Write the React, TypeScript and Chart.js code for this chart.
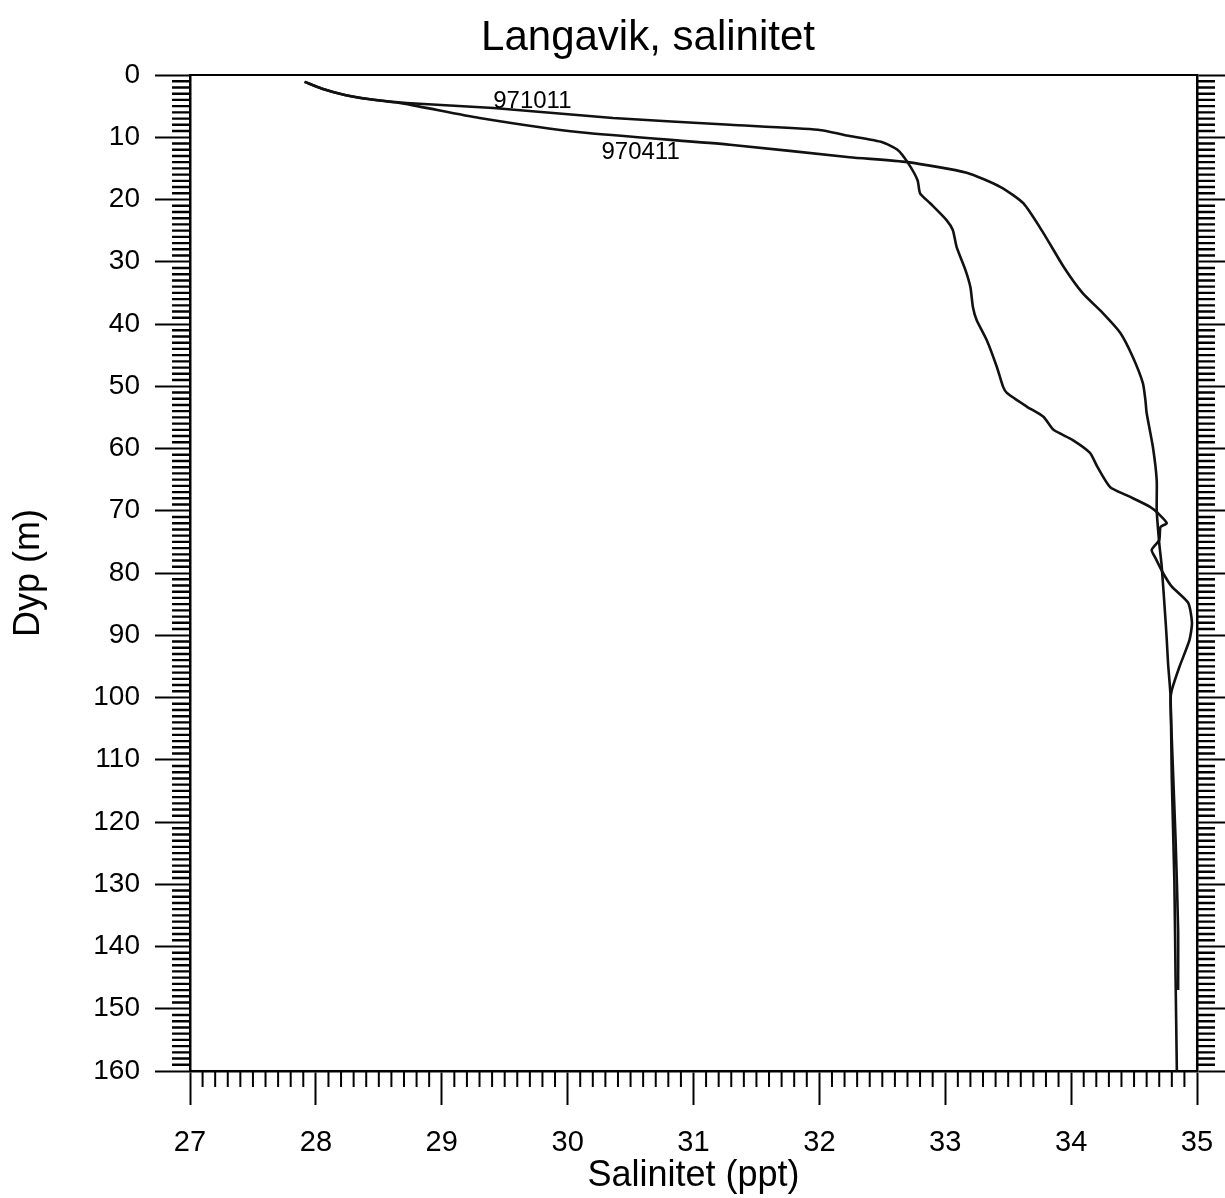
import React, { useEffect, useRef } from "react";
import { Chart, registerables } from "chart.js";

Chart.register(...registerables);

const TITLE = "Langavik, salinitet";
const X_TITLE = "Salinitet (ppt)";
const Y_TITLE = "Dyp (m)";
const FONT = '"Liberation Sans", Arial, Helvetica, sans-serif';

const X_MIN = 27;
const X_MAX = 35;
const Y_MIN = 0;
const Y_MAX = 160;

const SERIES_NAMES = ["971011", "970411"];

const sal971011 = [
  27.91, 28.05, 28.23, 28.43, 28.72, 29.41, 30.36, 31.29, 31.99, 32.24, 32.5, 32.62, 32.7, 32.78,
  32.8, 32.88, 33.01, 33.06, 33.09, 33.16, 33.2, 33.22, 33.25, 33.33, 33.41, 33.46, 33.49, 33.65,
  33.78, 33.86, 34.01, 34.15, 34.21, 34.31, 34.44, 34.63, 34.69, 34.76, 34.71, 34.7, 34.64, 34.67,
  34.73, 34.8, 34.93, 34.96, 34.94, 34.86, 34.8, 34.79, 34.8, 34.83, 34.85, 34.85,
];
const dep971011 = [
  1.1, 2.2, 3.2, 3.9, 4.5, 5.3, 6.9, 8.0, 8.8, 9.8, 10.8, 12.0, 14.0, 16.9, 19.0, 20.6, 23.3, 24.9,
  27.6, 31.3, 34.1, 37.3, 39.4, 42.6, 46.9, 50.1, 51.1, 53.3, 54.9, 57.0, 58.6, 60.7, 63.0, 66.2,
  67.5, 69.4, 70.4, 72.0, 72.6, 74.7, 76.3, 77.6, 80.0, 82.2, 84.8, 88.0, 90.8, 95.1, 98.8, 100.4,
  106.8, 122.9, 137.3, 147.0,
];

const sal970411 = [
  27.91, 28.05, 28.23, 28.43, 28.7, 29.3, 30.1, 31.29, 32.24, 32.7, 33.17, 33.44, 33.62, 33.78,
  33.94, 34.09, 34.25, 34.39, 34.49, 34.57, 34.59, 34.6, 34.65, 34.68, 34.68, 34.7, 34.72, 34.75,
  34.76, 34.77, 34.79, 34.8, 34.82, 34.83, 34.84,
];
const dep970411 = [
  1.1, 2.2, 3.2, 3.9, 4.6, 6.9, 9.2, 11.2, 13.2, 14.0, 15.7, 18.0, 20.6, 25.4, 30.8, 35.0, 38.2,
  41.4, 45.3, 49.5, 52.2, 54.3, 59.8, 65.1, 69.9, 75.2, 79.0, 87.6, 90.8, 94.5, 99.9, 113.3, 129.3,
  145.4, 160.0,
];

// label anchors (salinity, depth) for the series names
const LABEL_SAL = [29.72, 30.58];
const LABEL_DEP = [4.2, 12.4];

const toPoints = (xs: number[], ys: number[]) => xs.map((x, i) => ({ x, y: ys[i] }));

const decorPlugin = {
  id: "decor",
  afterDraw(chart: any) {
    const { ctx, chartArea: ca, scales } = chart;
    const xs = scales.x;
    const ys = scales.y;
    ctx.save();
    ctx.strokeStyle = "#000";
    ctx.lineWidth = 2;
    ctx.beginPath();
    for (let i = 1; i < (X_MAX - X_MIN) * 10; i++) {
      if (i % 10 === 0) continue;
      const px = xs.getPixelForValue(X_MIN + i / 10);
      ctx.moveTo(px, ca.bottom);
      ctx.lineTo(px, ca.bottom + 16);
    }
    ctx.stroke();
    ctx.lineWidth = 2.4;
    ctx.beginPath();
    for (let d = Y_MIN + 1; d < Y_MAX; d++) {
      if (d % 10 === 0) continue;
      const py = ys.getPixelForValue(d);
      ctx.moveTo(ca.left - 18, py);
      ctx.lineTo(ca.left, py);
      ctx.moveTo(ca.right, py);
      ctx.lineTo(ca.right + 18, py);
    }
    ctx.stroke();

    ctx.fillStyle = "#000";
    ctx.font = `42px ${FONT}`;
    ctx.textAlign = "center";
    ctx.textBaseline = "alphabetic";
    ctx.fillText(TITLE, 648, 50);

    ctx.font = `24px ${FONT}`;
    ctx.textBaseline = "middle";
    for (let i = 0; i < SERIES_NAMES.length; i++) {
      ctx.fillText(SERIES_NAMES[i], xs.getPixelForValue(LABEL_SAL[i]), ys.getPixelForValue(LABEL_DEP[i]));
    }
    ctx.restore();
  },
};

export default function App() {
  const ref = useRef<HTMLCanvasElement | null>(null);

  useEffect(() => {
    if (!ref.current) return;
    const lineStyle = {
      borderColor: "#111",
      borderWidth: 2.6,
      pointRadius: 0,
      showLine: true,
      fill: false,
      tension: 0.2,
    };
    const chart = new Chart(ref.current, {
      type: "scatter",
      data: {
        datasets: [
          { label: SERIES_NAMES[0], data: toPoints(sal971011, dep971011), ...lineStyle },
          { label: SERIES_NAMES[1], data: toPoints(sal970411, dep970411), ...lineStyle },
        ],
      },
      options: {
        responsive: false,
        animation: false,
        layout: { padding: { top: 75, left: 0, right: 0, bottom: 0 } },
        plugins: {
          legend: { display: false },
          tooltip: { enabled: false },
          title: { display: false },
        },
        scales: {
          x: {
            type: "linear",
            position: "bottom",
            min: X_MIN,
            max: X_MAX,
            afterFit: (s: any) => {
              s.height = 127;
              s.paddingLeft = 0;
              s.paddingRight = 0;
            },
            ticks: {
              stepSize: 1,
              autoSkip: false,
              maxRotation: 0,
              padding: 21,
              color: "#000",
              font: { family: FONT, size: 29 },
            },
            grid: {
              drawOnChartArea: false,
              drawTicks: true,
              tickLength: 34,
              tickWidth: 2,
              tickColor: "#000",
              color: "#000",
            },
            border: { display: true, color: "#000", width: 2.5 },
            title: {
              display: true,
              text: X_TITLE,
              color: "#000",
              font: { family: FONT, size: 36 },
              padding: { top: 0, bottom: 0 },
            },
          },
          x2: {
            type: "linear",
            position: "top",
            min: X_MIN,
            max: X_MAX,
            afterFit: (s: any) => {
              s.height = 0;
              s.paddingLeft = 0;
              s.paddingRight = 0;
            },
            ticks: { display: false },
            grid: { drawOnChartArea: false, drawTicks: false },
            border: { display: true, color: "#000", width: 2 },
          },
          y: {
            type: "linear",
            position: "left",
            reverse: true,
            min: Y_MIN,
            max: Y_MAX,
            afterFit: (s: any) => {
              s.width = 190;
              s.paddingTop = 0;
              s.paddingBottom = 0;
            },
            ticks: {
              stepSize: 10,
              autoSkip: false,
              padding: 15,
              color: "#000",
              font: { family: FONT, size: 28 },
            },
            grid: {
              drawOnChartArea: false,
              drawTicks: true,
              tickLength: 35,
              tickWidth: 2,
              tickColor: "#000",
              color: "#000",
            },
            border: { display: true, color: "#000", width: 2.5 },
            title: {
              display: true,
              text: Y_TITLE,
              color: "#000",
              font: { family: FONT, size: 36 },
              padding: { top: 7, bottom: 0 },
            },
          },
          y2: {
            type: "linear",
            position: "right",
            reverse: true,
            min: Y_MIN,
            max: Y_MAX,
            afterFit: (s: any) => {
              s.width = 28;
              s.paddingTop = 0;
              s.paddingBottom = 0;
            },
            ticks: { stepSize: 10, autoSkip: false, callback: () => "" },
            grid: {
              drawOnChartArea: false,
              drawTicks: true,
              tickLength: 28,
              tickWidth: 2,
              tickColor: "#000",
              color: "#000",
            },
            border: { display: true, color: "#000", width: 2.5 },
          },
        },
      },
      plugins: [decorPlugin],
    } as any);
    return () => chart.destroy();
  }, []);

  return (
    <div style={{ position: "absolute", left: 0, top: 0, width: 1225, height: 1198, background: "#fff" }}>
      <canvas ref={ref} width={1225} height={1198} style={{ display: "block" }} />
    </div>
  );
}
